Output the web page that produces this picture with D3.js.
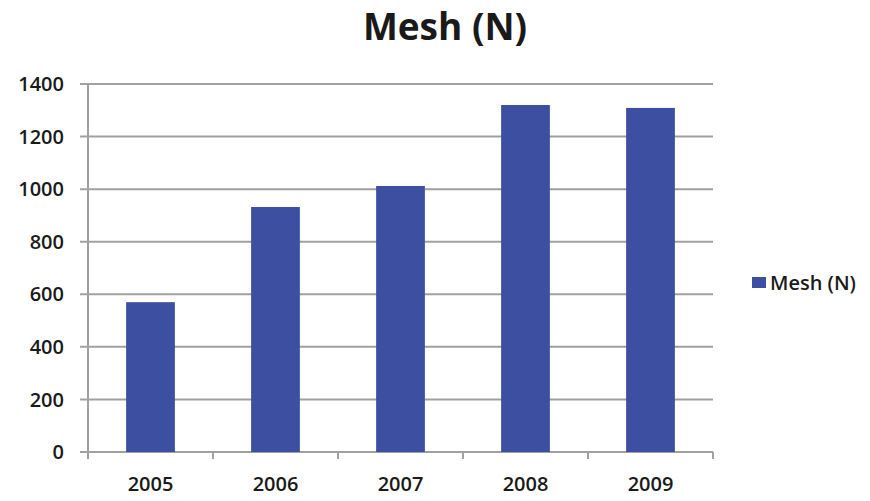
<!DOCTYPE html>
<html>
<head>
<meta charset="utf-8">
<script src="https://cdn.jsdelivr.net/npm/d3@7"></script>
<style>
  html, body { margin: 0; padding: 0; background: #fff; }
  svg { display: block; }
  text { font-family: "Open Sans", "Liberation Sans", sans-serif; fill: #1a1a1a; }
</style>
</head>
<body>
<svg id="chart" width="870" height="501"></svg>
<script>
// Chart data
const years = ["2005", "2006", "2007", "2008", "2009"];
const meshValues = [570, 932, 1012, 1320, 1309];
const yTicks = [0, 200, 400, 600, 800, 1000, 1200, 1400];
const seriesName = "Mesh (N)";
const chartTitle = "Mesh (N)";

const svg = d3.select("#chart");
const plot = { left: 88, right: 713, top: 84, bottom: 452 };
const barColor = "#3d4fa1";
const gridColor = "#a0a0a0";

const x = d3.scaleBand()
  .domain(years)
  .range([plot.left, plot.right])
  .paddingInner(0.61)
  .paddingOuter(0.305);

const y = d3.scaleLinear()
  .domain([0, 1400])
  .range([plot.bottom, plot.top]);

// Title
svg.append("text")
  .attr("x", 445)
  .attr("y", 40)
  .attr("text-anchor", "middle")
  .style("font-size", "37px")
  .style("font-weight", 700)
  .text(chartTitle);

// Horizontal gridlines with left tick marks
svg.append("g")
  .selectAll("line")
  .data(yTicks)
  .join("line")
  .attr("x1", plot.left - 8)
  .attr("x2", plot.right)
  .attr("y1", d => y(d))
  .attr("y2", d => y(d))
  .attr("stroke", gridColor)
  .attr("stroke-width", 2);

// Y tick labels
svg.append("g")
  .selectAll("text")
  .data(yTicks)
  .join("text")
  .attr("x", 64)
  .attr("y", d => y(d))
  .attr("dy", "0.36em")
  .attr("text-anchor", "end")
  .style("font-size", "20px")
  .style("font-weight", 600)
  .text(d => d);

// Bars
svg.append("g")
  .selectAll("rect")
  .data(years.map((yr, i) => ({ yr, v: meshValues[i] })))
  .join("rect")
  .attr("x", d => x(d.yr))
  .attr("width", x.bandwidth())
  .attr("y", d => y(d.v))
  .attr("height", d => y(0) - y(d.v))
  .attr("fill", barColor);

// Vertical axis line
svg.append("line")
  .attr("x1", plot.left).attr("x2", plot.left)
  .attr("y1", plot.top).attr("y2", plot.bottom + 7)
  .attr("stroke", gridColor)
  .attr("stroke-width", 2);

// Category boundary ticks on the x axis
const step = x.step();
const boundaries = years.map((yr, i) => plot.left + step * (i + 1));
svg.append("g")
  .selectAll("line")
  .data(boundaries)
  .join("line")
  .attr("x1", d => d).attr("x2", d => d)
  .attr("y1", plot.bottom).attr("y2", plot.bottom + 7)
  .attr("stroke", gridColor)
  .attr("stroke-width", 2);

// X tick labels
svg.append("g")
  .selectAll("text")
  .data(years)
  .join("text")
  .attr("x", d => x(d) + x.bandwidth() / 2)
  .attr("y", 491)
  .attr("text-anchor", "middle")
  .style("font-size", "20px")
  .style("font-weight", 600)
  .text(d => d);

// Legend
const legend = svg.append("g").attr("transform", "translate(752,277)");
legend.append("rect")
  .attr("width", 14)
  .attr("height", 11)
  .attr("fill", barColor);
legend.append("text")
  .attr("x", 18)
  .attr("y", 6)
  .attr("dy", "0.36em")
  .style("font-size", "20px")
  .style("font-weight", 600)
  .text(seriesName);
</script>
</body>
</html>
